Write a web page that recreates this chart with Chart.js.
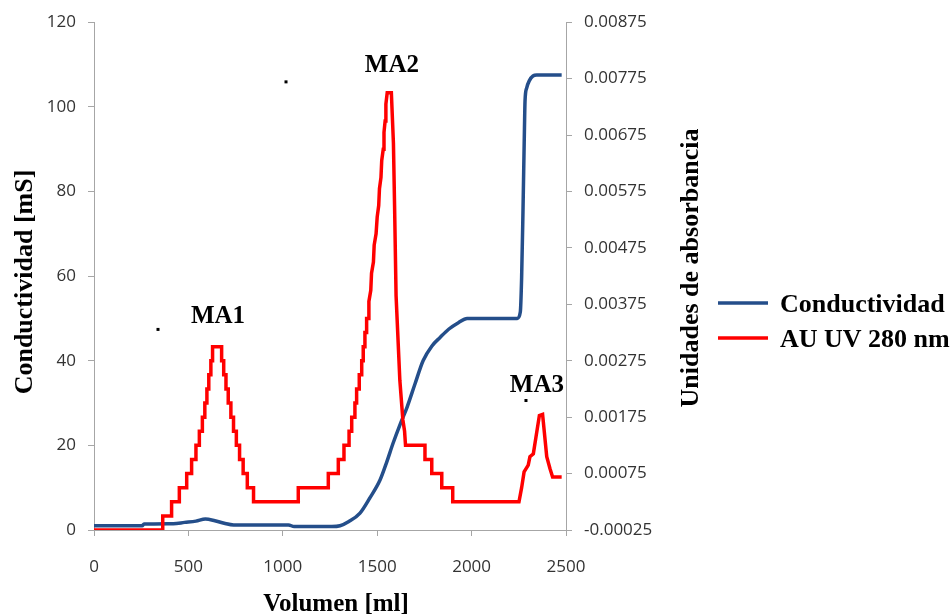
<!DOCTYPE html>
<html>
<head>
<meta charset="utf-8">
<script src="https://cdn.jsdelivr.net/npm/chart.js@4.4.1/dist/chart.umd.min.js"></script>
<style>
  body { margin: 0; background: #fff; }
  canvas { display: block; }
</style>
</head>
<body>
<canvas id="chart" width="951" height="616"></canvas>
<script>
// Conductividad (left axis, mS) vs volumen (ml)
var blueX = [0, 255, 265, 420, 480, 540, 590, 640, 690, 740, 1030, 1060, 1260, 1303, 1350, 1409, 1460, 1515, 1550, 1584, 1620, 1658, 1700, 1743, 1790, 1833, 1880, 1930, 1976, 2242, 2258, 2265, 2272, 2280, 2283, 2292, 2306, 2325, 2345, 2477];
var blueY = [1.0, 1.0, 1.4, 1.5, 1.8, 2.1, 2.6, 2.2, 1.6, 1.2, 1.2, 0.8, 0.8, 1.0, 2.0, 4.0, 7.5, 11.8, 16, 20.5, 24.8, 29, 34.5, 40, 43.5, 45.5, 47.5, 49, 50, 50, 51.5, 59.7, 75, 95, 101.4, 104.5, 106.2, 107.3, 107.5, 107.5];

// AU UV 280 nm (right axis), corners of the step trace
var redX = [0, 364, 364, 411, 411, 452, 452, 491, 491, 517, 517, 540, 540, 558, 558, 574, 574, 587, 587, 598, 598, 608, 608, 619, 619, 628, 628,
  676, 676, 687, 687, 699, 699, 711, 711, 725, 725, 739, 739, 754, 754, 771, 771, 790, 790, 812, 812, 845, 845,
  1082, 1082, 1241, 1241, 1294, 1294, 1324, 1324, 1351, 1351, 1365, 1365, 1382, 1382, 1391, 1391, 1405, 1405, 1418, 1418, 1426, 1426, 1435, 1435, 1444, 1444,
  1452, 1456, 1466, 1470, 1480, 1484, 1494, 1500, 1508, 1512, 1520, 1524, 1532, 1536, 1542, 1546, 1553, 1575,
  1586, 1592, 1600, 1620, 1636, 1645, 1650, 1753, 1753, 1789, 1789, 1842, 1842, 1900, 1900,
  2251, 2265, 2278, 2300, 2309, 2327, 2341, 2359, 2376, 2398, 2415, 2429, 2477];
var redY = [-0.00025, -0.00025, 0, 0, 0.00025, 0.00025, 0.0005, 0.0005, 0.00075, 0.00075, 0.001, 0.001, 0.00125, 0.00125, 0.0015, 0.0015, 0.00175, 0.00175, 0.002, 0.002, 0.00225, 0.00225, 0.0025, 0.0025, 0.00275, 0.00275, 0.003,
  0.003, 0.00275, 0.00275, 0.0025, 0.0025, 0.00225, 0.00225, 0.002, 0.002, 0.00175, 0.00175, 0.0015, 0.0015, 0.00125, 0.00125, 0.001, 0.001, 0.00075, 0.00075, 0.0005, 0.0005, 0.00025,
  0.00025, 0.0005, 0.0005, 0.00075, 0.00075, 0.001, 0.001, 0.00125, 0.00125, 0.0015, 0.0015, 0.00175, 0.00175, 0.002, 0.002, 0.00225, 0.00225, 0.0025, 0.0025, 0.00275, 0.00275, 0.003, 0.003, 0.00325, 0.00325, 0.0035,
  0.0035, 0.0038, 0.004, 0.0043, 0.0045, 0.0048, 0.005, 0.0053, 0.0055, 0.0058, 0.006, 0.0063, 0.0065, 0.0068, 0.007, 0.0073, 0.0075, 0.0075,
  0.0066, 0.0055, 0.0039, 0.0024, 0.0017, 0.0015, 0.00125, 0.00125, 0.001, 0.001, 0.00075, 0.00075, 0.0005, 0.0005, 0.00025,
  0.00025, 0.0005, 0.00078, 0.0009, 0.00105, 0.0011, 0.0014, 0.00178, 0.0018, 0.00105, 0.00084, 0.00069, 0.00069];

// tick labels
var xTicks = [0, 500, 1000, 1500, 2000, 2500];
var leftTicks = [0, 20, 40, 60, 80, 100, 120];
var rightTicks = [-0.00025, 0.00075, 0.00175, 0.00275, 0.00375, 0.00475, 0.00575, 0.00675, 0.00775, 0.00875];

// peak labels (in data units of x and the left axis) and the stray dots
var peakNames = ['MA1', 'MA2', 'MA3'];
var peakX = [657, 1578, 2346];
var peakY = [49.0, 108.2, 32.5];
var dotX = [339, 1017, 2288];
var dotY = [47.4, 105.9, 30.6];

var BLUE = '#244E8A';
var RED = '#FF0000';
var AXIS = '#A6A6A6';

function toPoints(xs, ys) {
    return xs.map(function (v, i) { return {x: v, y: ys[i]}; });
}

// titles, legend and peak labels
var overlay = {
    id: 'overlay',
    afterDraw: function (chart) {
        var ctx = chart.ctx;
        var sx = chart.scales.x, sy = chart.scales.y;
        ctx.save();
        ctx.fillStyle = '#000';
        ctx.font = 'bold 25px "Liberation Serif"';
        ctx.textAlign = 'center';
        ctx.textBaseline = 'alphabetic';

        peakNames.forEach(function (t, i) {
            ctx.fillText(t, sx.getPixelForValue(peakX[i]), sy.getPixelForValue(peakY[i]));
        });
        dotX.forEach(function (v, i) {
            ctx.fillRect(sx.getPixelForValue(v) - 1.5, sy.getPixelForValue(dotY[i]) - 1.5, 3, 3);
        });

        ctx.fillText('Volumen [ml]', 336, 611);

        ctx.font = 'bold 26px "Liberation Serif"';
        ctx.save();
        ctx.translate(32, 282);
        ctx.rotate(-Math.PI / 2);
        ctx.fillText('Conductividad [mS]', 0, 0);
        ctx.restore();

        ctx.save();
        ctx.translate(698, 268);
        ctx.rotate(-Math.PI / 2);
        ctx.fillText('Unidades de absorbancia', 0, 0);
        ctx.restore();

        // legend
        ctx.textAlign = 'left';
        chart.data.datasets.forEach(function (ds, i) {
            var ly = 303 + i * 35;
            ctx.strokeStyle = ds.borderColor;
            ctx.lineWidth = 3.5;
            ctx.beginPath();
            ctx.moveTo(718, ly);
            ctx.lineTo(768, ly);
            ctx.stroke();
            ctx.fillText(ds.label, 780, ly + 9);
        });
        ctx.restore();
    }
};

var tickFont = {family: '"Open Sans"', size: 17};

new Chart(document.getElementById('chart').getContext('2d'), {
    type: 'line',
    data: {
        datasets: [{
            label: 'Conductividad',
            data: toPoints(blueX, blueY),
            yAxisID: 'y',
            borderColor: BLUE,
            borderWidth: 3.5,
            pointRadius: 0,
            tension: 0.4,
            cubicInterpolationMode: 'monotone',
            order: 1
        }, {
            label: 'AU UV 280 nm',
            data: toPoints(redX, redY),
            yAxisID: 'y1',
            borderColor: RED,
            borderWidth: 3.5,
            pointRadius: 0,
            tension: 0,
            order: 0
        }]
    },
    options: {
        responsive: false,
        animation: false,
        layout: {padding: {left: 0, right: 285, top: 21, bottom: 0}},
        plugins: {legend: {display: false}, tooltip: {enabled: false}},
        scales: {
            x: {
                type: 'linear',
                min: 0, max: 2500,
                afterBuildTicks: function (s) { s.ticks = xTicks.map(function (v) { return {value: v}; }); },
                afterFit: function (s) { s.height = 86; },
                grid: {drawOnChartArea: false, tickLength: 6, color: AXIS},
                border: {color: AXIS},
                ticks: {
                    font: tickFont, color: '#333', padding: 21, maxRotation: 0,
                    callback: function (v) { return String(v); }
                }
            },
            y: {
                position: 'left',
                min: 0, max: 120,
                afterBuildTicks: function (s) { s.ticks = leftTicks.map(function (v) { return {value: v}; }); },
                afterFit: function (s) { s.width = 94; },
                grid: {drawOnChartArea: false, tickLength: 6, color: AXIS},
                border: {color: AXIS},
                ticks: {font: tickFont, color: '#333', padding: 12}
            },
            y1: {
                position: 'right',
                min: -0.00025, max: 0.00875,
                afterBuildTicks: function (s) { s.ticks = rightTicks.map(function (v) { return {value: v}; }); },
                afterFit: function (s) { s.width = 100; },
                grid: {drawOnChartArea: false, tickLength: 6, color: AXIS},
                border: {color: AXIS},
                ticks: {
                    font: tickFont, color: '#333', padding: 12,
                    callback: function (v) { return v.toFixed(5); }
                }
            }
        }
    },
    plugins: [overlay]
});
</script>
</body>
</html>
